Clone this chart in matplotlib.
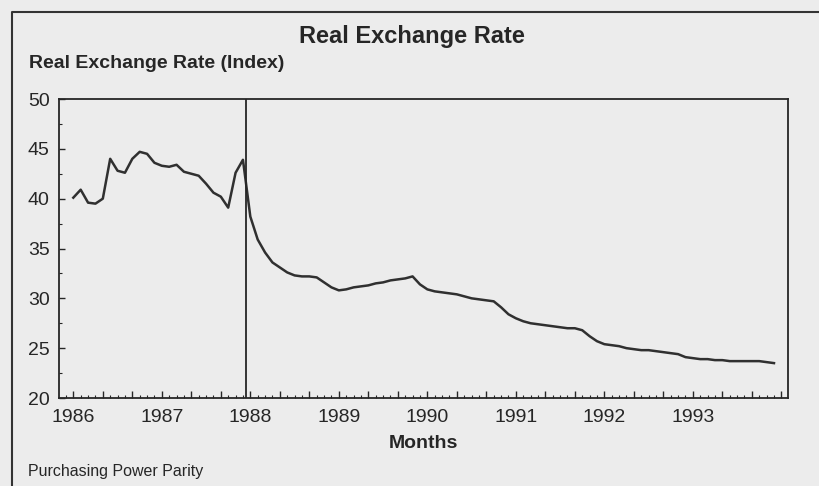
import matplotlib
matplotlib.use("Agg")
import matplotlib.pyplot as plt
from matplotlib.lines import Line2D
from matplotlib.ticker import MultipleLocator, FixedLocator, NullFormatter
import numpy as np

# ---- data (monthly, Jan 1986 .. Dec 1993) ----
values = [
    40.1, 40.9, 39.6, 39.5, 40.0, 44.0, 42.8, 42.6, 44.0, 44.7, 44.5, 43.6,   # 1986
    43.3, 43.2, 43.4, 42.7, 42.5, 42.3, 41.5, 40.6, 40.2, 39.1, 42.6, 43.9,   # 1987
    38.2, 35.9, 34.6, 33.6, 33.1, 32.6, 32.3, 32.2, 32.2, 32.1, 31.6, 31.1,   # 1988
    30.8, 30.9, 31.1, 31.2, 31.3, 31.5, 31.6, 31.8, 31.9, 32.0, 32.2, 31.4,   # 1989
    30.9, 30.7, 30.6, 30.5, 30.4, 30.2, 30.0, 29.9, 29.8, 29.7, 29.1, 28.4,   # 1990
    28.0, 27.7, 27.5, 27.4, 27.3, 27.2, 27.1, 27.0, 27.0, 26.8, 26.2, 25.7,   # 1991
    25.4, 25.3, 25.2, 25.0, 24.9, 24.8, 24.8, 24.7, 24.6, 24.5, 24.4, 24.1,   # 1992
    24.0, 23.9, 23.9, 23.8, 23.8, 23.7, 23.7, 23.7, 23.7, 23.7, 23.6, 23.5,   # 1993
]
year_labels = ["1986", "1987", "1988", "1989", "1990", "1991", "1992", "1993"]
y_ticks = [20, 25, 30, 35, 40, 45, 50]
break_month = 23.4   # vertical marker between Dec 1987 and Jan 1988

title = "Real Exchange Rate"
y_title = "Real Exchange Rate (Index)"
x_title = "Months"
source = "Purchasing Power Parity"

BG = "#ececec"
INK = "#262626"

plt.rcParams['font.family'] = ['Liberation Sans', 'DejaVu Sans']

fig = plt.figure(figsize=(8.2, 4.86), dpi=100, facecolor=BG)
W, H = 820, 486
ax = fig.add_axes([59.3 / W, 1 - 398 / H, (788 - 59.3) / W, (398 - 99) / H])
ax.set_facecolor(BG)

x = np.arange(len(values))
ax.plot(x, values, color="#303030", lw=1.8, solid_joinstyle="round")
ax.axvline(break_month, color=INK, lw=1.3)

ax.set_xlim(-1.9, 96.9)
ax.set_ylim(20, 50)

# medium ticks every 4 months, small ticks monthly; labels at each January
ax.xaxis.set_major_locator(MultipleLocator(4))
ax.xaxis.set_major_formatter(NullFormatter())
ax.xaxis.set_minor_locator(MultipleLocator(1))
ax.yaxis.set_major_locator(FixedLocator(y_ticks))
ax.yaxis.set_minor_locator(MultipleLocator(2.5))

ax.tick_params(axis="both", which="both", direction="in", color=INK, labelcolor=INK)
ax.tick_params(axis="x", which="major", length=5, width=1.0)
ax.tick_params(axis="x", which="minor", length=2.5, width=0.8)
ax.tick_params(axis="y", which="major", length=4, width=1.0, labelsize=14, pad=7)
ax.tick_params(axis="y", which="minor", length=2, width=0.8)
for s in ax.spines.values():
    s.set_color(INK)
    s.set_linewidth(1.3)

# year labels placed under each January via the axis transform
xform = ax.get_xaxis_transform()
for k, lab in enumerate(year_labels):
    ax.text(12 * k, -0.066, lab, transform=xform, ha="center", va="center",
            fontsize=14, color=INK)

fig.text(412 / W, 1 - 36 / H, title, ha="center", va="center",
         fontsize=17, fontweight="bold", color=INK)
fig.text(29 / W, 1 - 63 / H, y_title, ha="left", va="center",
         fontsize=14, fontweight="bold", color=INK)
fig.text((59.3 + 788) / 2 / W, 1 - 443 / H, x_title, ha="center", va="center",
         fontsize=14, fontweight="bold", color=INK)
fig.text(28 / W, 1 - 471 / H, source, ha="left", va="center",
         fontsize=11.5, color=INK)

# outer frame (left and top edges)
fig.add_artist(Line2D([12 / W, 12 / W, 1.0], [0.0, 1 - 12 / H, 1 - 12 / H],
                      transform=fig.transFigure, color="#333333", lw=1.5))

fig.savefig("out.png", dpi=100, facecolor=BG)
